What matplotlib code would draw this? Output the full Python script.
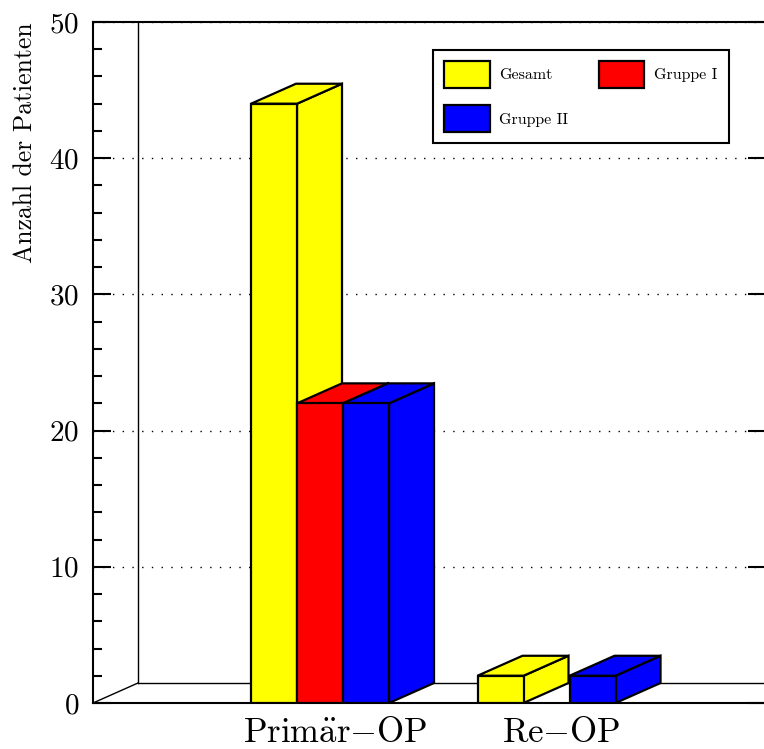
import matplotlib.pyplot as plt
from matplotlib.patches import Polygon, Rectangle, Patch
from matplotlib.ticker import MultipleLocator

plt.rcParams['font.family'] = 'cmr10'
plt.rcParams['mathtext.fontset'] = 'cm'
plt.rcParams['axes.formatter.use_mathtext'] = True

categories = [r'$\mathrm{Prim\ddot{a}r}{-}\mathrm{OP}$', r'$\mathrm{Re}{-}\mathrm{OP}$']
gesamt = [44, 2]
gruppe1 = [22, 0]
gruppe2 = [22, 2]
series = [gesamt, gruppe1, gruppe2]
names = ['Gesamt', 'Gruppe I', 'Gruppe II']
colors = ['#ffff00', '#ff0000', '#0000ff']

w = 0.2031      # bar width
dx = 0.1987     # depth offset in x
dy = 1.468      # depth offset in y
xmin, xmax = -1.0022, 1.969


def bar3d(ax, x, h, color):
    side = Polygon([(x + w, 0), (x + w + dx, dy), (x + w + dx, h + dy), (x + w, h)],
                   closed=True, fc=color, ec='black', lw=1.6, joinstyle='miter', zorder=3)
    top = Polygon([(x, h), (x + dx, h + dy), (x + w + dx, h + dy), (x + w, h)],
                  closed=True, fc=color, ec='black', lw=1.6, joinstyle='miter', zorder=3)
    front = Rectangle((x, 0), w, h, fc=color, ec='black', lw=1.6, zorder=3)
    ax.add_patch(side)
    ax.add_patch(top)
    ax.add_patch(front)


fig = plt.figure(figsize=(7.64, 7.49), dpi=100)
ax = fig.add_axes([93 / 764, 46 / 749, 673 / 764, 681 / 749])

for c in range(len(categories)):
    for i, vals in enumerate(series):
        if vals[c] > 0:
            bar3d(ax, c + (i - 1) * w - w / 2, vals[c], colors[i])

# back wall and floor
xw = xmin + dx
ax.plot([xmin, xw], [0, dy], color='black', lw=1, zorder=1)
ax.plot([xw, xw], [dy, 50], color='black', lw=1, zorder=1)
ax.plot([xw, xmax], [dy, dy], color='black', lw=1, zorder=1)

ax.set_xlim(xmin, xmax)
ax.set_ylim(0, 50)
ax.yaxis.set_major_locator(MultipleLocator(10))
ax.yaxis.set_minor_locator(MultipleLocator(2))
ax.tick_params(axis='y', which='major', direction='in', length=13, width=1.5,
               left=True, right=True, labelsize=21, pad=10)
ax.tick_params(axis='y', which='minor', direction='in', length=6.5, width=1.5,
               left=True, right=False)
ax.set_xticks([c + dx / 3 for c in range(len(categories))], categories)
ax.tick_params(axis='x', length=0, labelsize=25, pad=10)

for s in ax.spines.values():
    s.set_linewidth(1.5)

ax.set_axisbelow(True)
ax.yaxis.grid(True, linestyle=(0, (1, 6)), color='black', lw=1)

ax.set_ylabel('Anzahl der Patienten', fontsize=18.5, loc='top')
ax.yaxis.set_label_coords(-0.083, 1.0)

handles = [Patch(fc=col, ec='black', lw=1.6) for col in colors]
order = [0, 2, 1]  # fill rows like the original: Gesamt, Gruppe I / Gruppe II
leg = ax.legend([handles[k] for k in order], [names[k] for k in order], ncol=2,
                loc='upper left', bbox_to_anchor=(0.505, 0.959), borderaxespad=0,
                fontsize=11.5, handlelength=2.86, handleheight=2.2, handletextpad=0.6,
                labelspacing=1.1, columnspacing=1.9, borderpad=0.7,
                fancybox=False, framealpha=1, edgecolor='black')
leg.get_frame().set_linewidth(1.5)

plt.savefig('out.png', dpi=100)
